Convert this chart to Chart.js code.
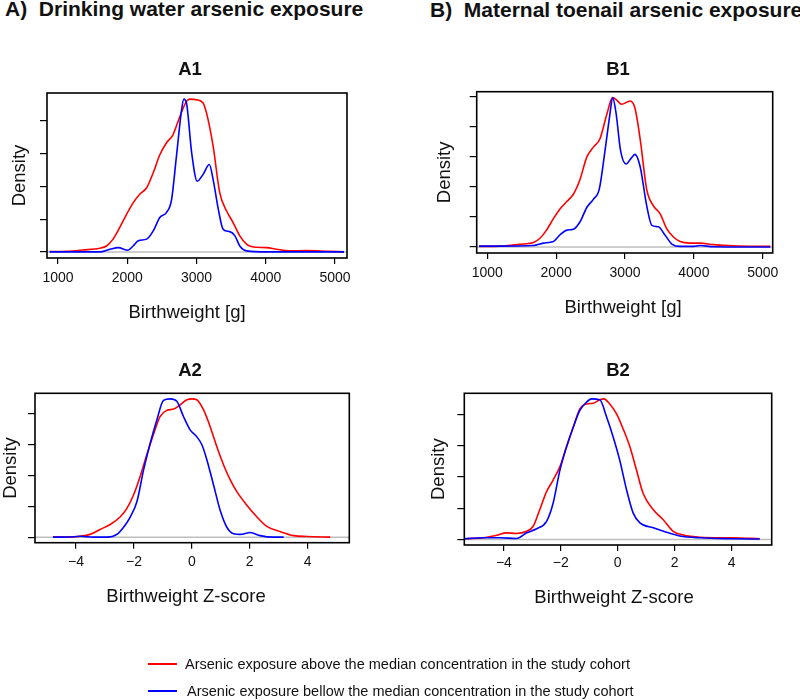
<!DOCTYPE html>
<html lang="en">
<head>
  <meta charset="UTF-8">
  <title>Birthweight density by arsenic exposure</title>
  <script src="https://cdn.jsdelivr.net/npm/chart.js"></script>
  <style>
    body { margin: 0; width: 800px; height: 700px; background: #fff; position: relative; overflow: hidden;
           font-family: 'Liberation Sans', Arial, Helvetica, sans-serif; color: #111; }
    .head { position: absolute; font-weight: bold; font-size: 21px; line-height: 21px; white-space: nowrap; }
    .ptitle { position: absolute; font-weight: bold; font-size: 18.5px; line-height: 18.5px; width: 80px; text-align: center; }
    .xtitle { position: absolute; font-size: 18.5px; line-height: 18.5px; width: 300px; text-align: center; white-space: nowrap; }
    .panel { position: absolute; width: 400px; height: 300px; }
    .leg-line { position: absolute; height: 2px; }
    .leg-text { position: absolute; font-size: 14.5px; line-height: 14.5px; white-space: nowrap; }
  </style>
</head>
<body>
  <div class="head" style="left:5px; top:-2px;">A)&nbsp; Drinking water arsenic exposure</div>
  <div class="head" style="left:430px; top:-1px;">B)&nbsp; Maternal toenail arsenic exposure</div>

  <div class="panel" style="left:0; top:60px;"><canvas id="a1" width="400" height="300"></canvas></div>
  <div class="panel" style="left:400px; top:60px;"><canvas id="b1" width="400" height="300"></canvas></div>
  <div class="panel" style="left:0; top:360px;"><canvas id="a2" width="400" height="300"></canvas></div>
  <div class="panel" style="left:400px; top:360px;"><canvas id="b2" width="400" height="300"></canvas></div>

  <div class="ptitle" style="left:150px; top:60px;">A1</div>
  <div class="ptitle" style="left:578px; top:60px;">B1</div>
  <div class="ptitle" style="left:150px; top:361px;">A2</div>
  <div class="ptitle" style="left:578px; top:361px;">B2</div>

  <div class="xtitle" style="left:37px; top:303px;">Birthweight [g]</div>
  <div class="xtitle" style="left:473px; top:298px;">Birthweight [g]</div>
  <div class="xtitle" style="left:36px; top:587px;">Birthweight Z-score</div>
  <div class="xtitle" style="left:464px; top:588px;">Birthweight Z-score</div>

  <div class="leg-line" style="left:148px; top:663px; width:29px; background:#ff0000;"></div>
  <div class="leg-text" style="left:185px; top:657px;">Arsenic exposure above the median concentration in the study cohort</div>
  <div class="leg-line" style="left:148px; top:690px; width:29px; background:#0000ff;"></div>
  <div class="leg-text" style="left:187px; top:684px;">Arsenic exposure bellow the median concentration in the study cohort</div>

  <script>
    // densities; y in units of the (unlabelled) tick spacing
    const gramTicks = [1000, 2000, 3000, 4000, 5000];
    const zTicks = [-4, -2, 0, 2, 4];

    const a1Range = [841, 5173];
    const b1Range = [846, 5145];
    const a2Range = [-5.42, 5.44];
    const b2Range = [-5.39, 5.41];

    const a1YTicks = [0, 1, 2, 3, 4];
    const b1YTicks = [0, 1, 2, 3, 4, 5];
    const a2YTicks = [0, 1, 2, 3, 4];
    const b2YTicks = [0, 1, 2, 3, 4];

    const a1Above = [[880,0.01],[1120,0.02],[1360,0.06],[1600,0.11],[1700,0.18],[1795,0.39],[1890,0.74],[1990,1.15],
      [2085,1.50],[2180,1.76],[2280,1.96],[2375,2.42],[2470,2.97],[2565,3.33],[2660,3.58],[2760,4.14],[2855,4.60],
      [2905,4.67],[3000,4.65],[3095,4.55],[3145,4.24],[3240,3.23],[3335,1.81],[3435,1.25],[3530,0.89],[3625,0.49],
      [3725,0.23],[3820,0.15],[4010,0.13],[4155,0.08],[4350,0.03],[4590,0.04],[4880,0.02],[5130,0.0]];
    const a1Below = [[880,0.0],[1600,0.0],[1750,0.08],[1870,0.13],[2010,0.05],[2085,0.18],[2160,0.34],[2280,0.39],
      [2375,0.64],[2470,1.05],[2565,1.20],[2640,1.60],[2710,2.92],[2785,4.35],[2817,4.67],[2855,4.55],[2930,3.03],
      [3010,2.16],[3095,2.37],[3185,2.67],[3240,2.21],[3315,1.30],[3385,0.69],[3480,0.62],[3555,0.49],[3625,0.18],
      [3725,0.03],[4010,0.0],[5130,0.0]];

    const b1Above = [[880,0.02],[1185,0.03],[1425,0.08],[1570,0.11],[1670,0.15],[1765,0.29],[1860,0.56],[1960,0.94],
      [2055,1.26],[2155,1.51],[2250,1.75],[2345,2.23],[2445,2.98],[2540,3.31],[2635,3.58],[2735,4.39],[2820,4.95],
      [2880,4.87],[2950,4.73],[3075,4.84],[3145,4.60],[3220,3.58],[3315,1.91],[3410,1.37],[3510,1.10],[3605,0.61],
      [3700,0.34],[3800,0.18],[3945,0.13],[4090,0.13],[4285,0.08],[4575,0.04],[5110,0.02]];
    const b1Below = [[880,0.03],[1185,0.03],[1670,0.05],[1815,0.13],[1960,0.18],[2055,0.40],[2155,0.56],[2250,0.59],
      [2345,0.83],[2445,1.31],[2540,1.58],[2625,1.91],[2710,3.20],[2780,4.39],[2820,4.95],[2870,4.44],[2935,3.20],
      [3015,2.75],[3085,2.93],[3145,3.07],[3220,2.66],[3315,1.37],[3390,0.72],[3485,0.67],[3580,0.40],[3680,0.10],
      [3800,0.02],[3995,0.02],[4090,0.05],[4285,0.01],[5110,0.0]];

    const a2Above = [[-4.8,0.0],[-4.32,0.0],[-3.86,0.03],[-3.52,0.09],[-3.17,0.25],[-2.82,0.41],[-2.48,0.65],[-2.25,0.92],
      [-2.02,1.35],[-1.79,1.95],[-1.56,2.65],[-1.33,3.30],[-1.10,3.89],[-0.86,4.09],[-0.63,4.13],[-0.40,4.27],
      [-0.17,4.43],[0.0,4.46],[0.17,4.43],[0.40,4.11],[0.63,3.57],[0.86,2.92],[1.10,2.32],[1.33,1.84],[1.56,1.46],
      [1.90,1.03],[2.25,0.65],[2.59,0.35],[3.05,0.18],[3.52,0.05],[3.98,0.02],[4.78,0.0]];
    const a2Below = [[-4.8,0.0],[-4.32,0.0],[-3.86,0.03],[-3.40,0.0],[-2.94,0.0],[-2.59,0.09],[-2.36,0.32],[-2.13,0.65],
      [-1.90,1.14],[-1.67,2.16],[-1.44,3.03],[-1.21,3.78],[-0.98,4.41],[-0.75,4.46],[-0.52,4.38],[-0.29,3.89],
      [-0.06,3.46],[0.17,3.24],[0.35,2.97],[0.52,2.49],[0.75,1.68],[0.98,0.86],[1.21,0.32],[1.44,0.11],[1.67,0.09],
      [2.02,0.15],[2.36,0.05],[2.82,0.0],[3.17,0.0]];

    const b2Above = [[-5.39,0.02],[-4.73,0.05],[-4.26,0.13],[-3.91,0.21],[-3.56,0.19],[-3.20,0.26],[-2.97,0.42],
      [-2.74,0.95],[-2.50,1.53],[-2.27,1.90],[-2.03,2.33],[-1.80,2.96],[-1.56,3.60],[-1.33,4.18],[-1.10,4.34],
      [-0.86,4.36],[-0.63,4.47],[-0.49,4.50],[-0.28,4.34],[-0.04,4.02],[0.19,3.54],[0.43,2.96],[0.66,2.22],
      [0.89,1.48],[1.25,0.95],[1.60,0.63],[1.95,0.26],[2.30,0.14],[2.89,0.07],[4.06,0.05],[4.99,0.02]];
    const b2Below = [[-5.39,0.02],[-4.73,0.05],[-4.14,0.05],[-3.56,0.03],[-3.20,0.21],[-2.85,0.34],[-2.50,0.58],
      [-2.27,1.16],[-2.03,2.22],[-1.80,2.96],[-1.56,3.60],[-1.33,4.13],[-1.10,4.39],[-0.92,4.50],[-0.63,4.47],
      [-0.39,3.92],[-0.16,3.28],[0.07,2.54],[0.31,1.59],[0.54,0.85],[0.78,0.53],[1.25,0.37],[1.71,0.23],
      [2.18,0.11],[2.89,0.05],[4.06,0.02],[4.99,0.01]];

    const FONT = "'Liberation Sans', Arial, Helvetica, sans-serif";
    const TEXT = '#111';

    const frame = {
      id: 'frame',
      afterDatasetsDraw(chart) {
        const a = chart.chartArea, ctx = chart.ctx;
        ctx.save();
        ctx.strokeStyle = '#000';
        ctx.lineWidth = 1.6;
        ctx.strokeRect(a.left, a.top, a.right - a.left, a.bottom - a.top);
        ctx.restore();
      }
    };

    const toXY = arr => arr.map(([x, y]) => ({ x, y }));
    const fmt = v => v < 0 ? '\u2212' + (-v) : String(v);

    function makePanel(id, p) {
      const peak = Math.max(...p.above.map(d => d[1]), ...p.below.map(d => d[1]));
      new Chart(document.getElementById(id), {
        type: 'line',
        data: {
          datasets: [
            { data: toXY(p.above), borderColor: '#ff0000', order: 2 },
            { data: toXY(p.below), borderColor: '#0000ff', order: 1 },
            { data: [{ x: p.range[0], y: 0 }, { x: p.range[1], y: 0 }], borderColor: '#bebebe',
              borderWidth: 1.5, cubicInterpolationMode: 'default', tension: 0, order: 3 }
          ]
        },
        options: {
          responsive: false,
          animation: false,
          events: [],
          layout: { padding: p.pad },
          elements: {
            point: { radius: 0 },
            line: { borderWidth: 1.6, fill: false, cubicInterpolationMode: 'monotone' }
          },
          plugins: { legend: { display: false }, tooltip: { enabled: false } },
          scales: {
            x: {
              type: 'linear',
              min: p.range[0],
              max: p.range[1],
              afterBuildTicks: s => { s.ticks = p.xTicks.map(v => ({ value: v })); },
              afterFit: s => { s.height = p.xH; },
              border: { display: false },
              grid: { drawOnChartArea: false, drawTicks: true, tickLength: 6, color: '#000', tickColor: '#000', lineWidth: 1.2 },
              ticks: { autoSkip: false, maxRotation: 0, padding: p.tickPad, color: TEXT,
                       font: { family: FONT, size: 14 }, callback: v => fmt(v) },
              title: { display: false }
            },
            y: {
              type: 'linear',
              min: -0.04 * peak,
              max: 1.04 * peak,
              afterBuildTicks: s => { s.ticks = p.yTicks.map(v => ({ value: v })); },
              afterFit: s => { s.width = p.yW; },
              border: { display: false },
              grid: { drawOnChartArea: false, drawTicks: true, tickLength: 7, color: '#000', tickColor: '#000', lineWidth: 1.2 },
              ticks: { display: false },
              title: { display: true, text: 'Density', color: TEXT, padding: { top: p.yTitlePad, bottom: 0 },
                       font: { family: FONT, size: 18.5 } }
            }
          }
        },
        plugins: [frame]
      });
    }

    makePanel('a1', { above: a1Above, below: a1Below, range: a1Range, xTicks: gramTicks, yTicks: a1YTicks,
      pad: { left: 0, top: 33, right: 53, bottom: 35.9 }, yW: 47, xH: 66.1, tickPad: 5.6, yTitlePad: 8.5 });
    makePanel('b1', { above: b1Above, below: b1Below, range: b1Range, xTicks: gramTicks, yTicks: b1YTicks,
      pad: { left: 29.7, top: 31.7, right: 27.3, bottom: 40.6 }, yW: 47, xH: 66.4, tickPad: 5.9, yTitlePad: 4.5 });
    makePanel('a2', { above: a2Above, below: a2Below, range: a2Range, xTicks: zTicks, yTicks: a2YTicks,
      pad: { left: 0, top: 33.3, right: 50.7, bottom: 52.2 }, yW: 35, xH: 65.1, tickPad: 4.6, yTitlePad: 0 });
    makePanel('b2', { above: b2Above, below: b2Below, range: b2Range, xTicks: zTicks, yTicks: b2YTicks,
      pad: { left: 17.3, top: 33.3, right: 28.3, bottom: 52.2 }, yW: 47, xH: 62.8, tickPad: 3.9, yTitlePad: 10.6 });
  </script>
</body>
</html>
